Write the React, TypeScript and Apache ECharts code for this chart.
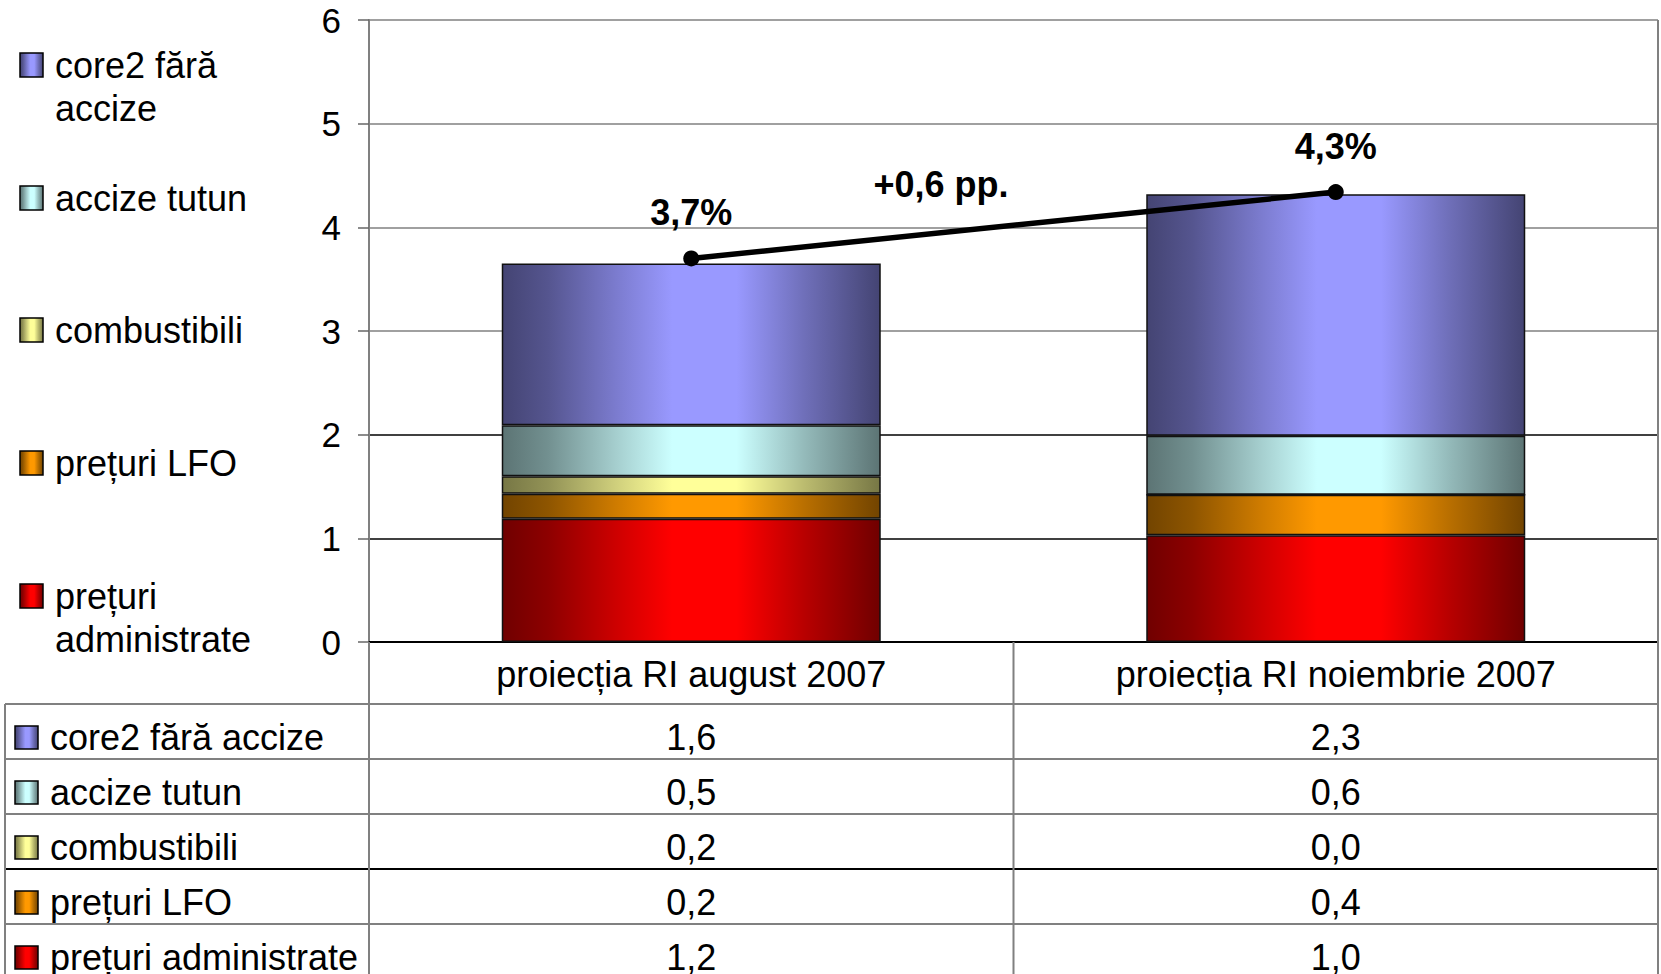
import React, { useEffect, useRef } from "react";
import * as echarts from "echarts";

// Categories (x axis) and the stacked contributions, in percentage points
const categories = ["proiecția RI august 2007", "proiecția RI noiembrie 2007"];
const administrate = [1.19, 1.03];
const lfo = [0.24, 0.39];
const combustibili = [0.17, 0.0];
const accizeTutun = [0.49, 0.57];
const core2 = [1.56, 2.33];
// Headline inflation projection drawn as a line over the bars
const totalInflation = [3.7, 4.34];

// Component names, bottom of the stack first
const componentNames = ["prețuri administrate", "prețuri LFO", "combustibili", "accize tutun", "core2 fără accize"];
const componentValues = [administrate, lfo, combustibili, accizeTutun, core2];
// Left-hand legend captions (wrapped), same order
const legendCaptions = ["prețuri\nadministrate", "prețuri LFO", "combustibili", "accize tutun", "core2 fără\naccize"];
const brightColors = ["#FF0000", "#FF9900", "#FFFF99", "#CCFFFF", "#9999FF"];
const darkColors = ["#700000", "#724400", "#777745", "#5C7474", "#444473"];

// Y axis range
const yMin = 0;
const yMax = 6;
const yInterval = 1;

const FONT = "'Liberation Sans', Arial, Helvetica, sans-serif";

// Layout in pixels
const W = 1661;
const H = 974;
const PLOT_LEFT = 369;
const PLOT_RIGHT = 1658;
const PLOT_TOP = 20;
const PLOT_BOTTOM = 642;
const TABLE_LEFT = 5;
const HEADER_BOTTOM = 704;
const ROW_H = 55;

function mix(a: string, b: string, t: number): string {
  const pa = [1, 3, 5].map((i) => parseInt(a.slice(i, i + 2), 16));
  const pb = [1, 3, 5].map((i) => parseInt(b.slice(i, i + 2), 16));
  const c = pa.map((v, i) => Math.round(v + (pb[i] - v) * t));
  return "#" + c.map((v) => v.toString(16).padStart(2, "0")).join("");
}

function shade(idx: number) {
  const d = darkColors[idx];
  const b = brightColors[idx];
  return new echarts.graphic.LinearGradient(0, 0, 1, 0, [
    { offset: 0, color: d },
    { offset: 0.12, color: mix(d, b, 0.2) },
    { offset: 0.3, color: mix(d, b, 0.65) },
    { offset: 0.45, color: b },
    { offset: 0.62, color: b },
    { offset: 0.8, color: mix(d, b, 0.5) },
    { offset: 1, color: d },
  ]);
}

const fmt = (v: number) => v.toFixed(1).replace(".", ",");

export default function App() {
  const ref = useRef<HTMLDivElement>(null);

  useEffect(() => {
    if (!ref.current) return;
    const chart = echarts.init(ref.current, null, { renderer: "svg" });

    const barSeries = componentNames.map((name, i) => ({
      name,
      type: "bar",
      stack: "total",
      barWidth: 379,
      data: componentValues[i],
      itemStyle: { color: shade(i), borderColor: "#111", borderWidth: 1.5 },
      emphasis: { disabled: true },
      z: 2,
    }));

    const graphics: any[] = [];

    // Left legend: square keys with captions
    const legendRows = [
      { idx: 4, keyY: 65, textY: 86.5 },
      { idx: 3, keyY: 198, textY: 198 },
      { idx: 2, keyY: 330, textY: 330 },
      { idx: 1, keyY: 463, textY: 463 },
      { idx: 0, keyY: 596, textY: 617.5 },
    ];
    legendRows.forEach((r) => {
      graphics.push({
        type: "rect",
        shape: { x: 20, y: r.keyY - 12, width: 23, height: 24 },
        style: { fill: shade(r.idx), stroke: "#000", lineWidth: 1.5 },
      });
      graphics.push({
        type: "text",
        x: 55,
        y: r.textY,
        style: {
          text: legendCaptions[r.idx],
          fontSize: 36,
          fontFamily: FONT,
          fill: "#000",
          align: "left",
          verticalAlign: "middle",
          lineHeight: 43,
        },
      });
    });

    // Data table below the plot
    const colDivider = (PLOT_LEFT + PLOT_RIGHT) / 2;
    const colCenters = [(PLOT_LEFT + colDivider) / 2, (colDivider + PLOT_RIGHT) / 2];
    const tableOrder = [4, 3, 2, 1, 0];
    const gridGray = "#808080";
    const hLine = (y: number, color: string) =>
      graphics.push({
        type: "line",
        shape: { x1: TABLE_LEFT, y1: y, x2: PLOT_RIGHT, y2: y },
        style: { stroke: color, lineWidth: 2 },
        z: 10,
      });
    const vLine = (x: number, y1: number, y2: number, color: string) =>
      graphics.push({
        type: "line",
        shape: { x1: x, y1, x2: x, y2 },
        style: { stroke: color, lineWidth: 2 },
        z: 10,
      });
    for (let r = 0; r <= tableOrder.length; r++) {
      const y = HEADER_BOTTOM + r * ROW_H;
      if (y < H) hLine(y, r === 3 ? "#000" : gridGray);
    }
    vLine(TABLE_LEFT, HEADER_BOTTOM, H, gridGray);
    vLine(PLOT_LEFT, PLOT_BOTTOM, H, gridGray);
    vLine(colDivider, PLOT_BOTTOM, H, gridGray);
    vLine(PLOT_RIGHT, PLOT_TOP, H, gridGray);

    tableOrder.forEach((idx, r) => {
      const mid = HEADER_BOTTOM + r * ROW_H + ROW_H / 2 + 6;
      graphics.push({
        type: "rect",
        shape: { x: 15, y: mid - 11.5, width: 23, height: 23 },
        style: { fill: shade(idx), stroke: "#000", lineWidth: 1.5 },
        z: 11,
      });
      graphics.push({
        type: "text",
        x: 50,
        y: mid,
        style: {
          text: componentNames[idx],
          fontSize: 36,
          fontFamily: FONT,
          fill: "#000",
          align: "left",
          verticalAlign: "middle",
        },
        z: 11,
      });
      componentValues[idx].forEach((v, c) => {
        graphics.push({
          type: "text",
          x: colCenters[c],
          y: mid,
          style: {
            text: fmt(v),
            fontSize: 36,
            fontFamily: FONT,
            fill: "#000",
            align: "center",
            verticalAlign: "middle",
          },
          z: 11,
        });
      });
    });

    // Change between the two projections
    graphics.push({
      type: "text",
      x: 941,
      y: 184,
      style: {
        text: "+" + fmt(totalInflation[1] - totalInflation[0]) + " pp.",
        fontSize: 36,
        fontWeight: "bold",
        fontFamily: FONT,
        fill: "#000",
        align: "center",
        verticalAlign: "middle",
      },
    });

    chart.setOption({
      animation: false,
      backgroundColor: "#fff",
      textStyle: { fontFamily: FONT },
      legend: { show: false },
      grid: {
        left: PLOT_LEFT,
        right: W - PLOT_RIGHT,
        top: PLOT_TOP,
        bottom: H - PLOT_BOTTOM,
        containLabel: false,
      },
      xAxis: {
        type: "category",
        data: categories,
        axisLine: { show: true, lineStyle: { color: "#000", width: 2 } },
        axisTick: { show: false },
        axisLabel: { fontSize: 36, color: "#000", margin: 14, fontFamily: FONT, interval: 0 },
        splitLine: { show: false },
      },
      yAxis: {
        type: "value",
        min: yMin,
        max: yMax,
        interval: yInterval,
        axisLine: { show: true, lineStyle: { color: gridGray, width: 2 } },
        axisTick: { show: true, length: 11, lineStyle: { color: "#666", width: 1.5 } },
        axisLabel: { fontSize: 35, color: "#000", margin: 28, fontFamily: FONT },
        splitLine: {
          show: true,
          lineStyle: {
            color: ["#000", "#000", "#000", gridGray, gridGray, gridGray, gridGray],
            width: 1.5,
          },
        },
      },
      series: [
        ...barSeries,
        {
          name: "inflație",
          type: "line",
          data: totalInflation,
          symbol: "circle",
          symbolSize: 16,
          lineStyle: { color: "#000", width: 5.5 },
          itemStyle: { color: "#000" },
          label: {
            show: true,
            position: "top",
            distance: 20,
            fontSize: 36,
            fontWeight: "bold",
            color: "#000",
            fontFamily: FONT,
            formatter: (p: any) => fmt(p.value) + "%",
          },
          emphasis: { disabled: true },
          z: 5,
        },
      ],
      graphic: graphics,
    });

    return () => chart.dispose();
  }, []);

  return (
    <div
      ref={ref}
      style={{ position: "fixed", left: 0, top: 0, width: W, height: H, background: "#fff" }}
    />
  );
}
